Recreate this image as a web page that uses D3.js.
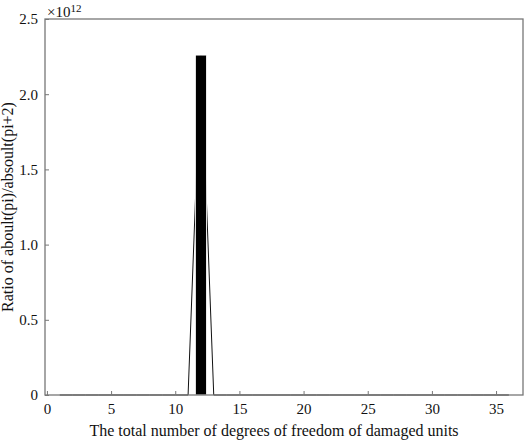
<!DOCTYPE html>
<html>
<head>
<meta charset="utf-8">
<script src="https://cdn.jsdelivr.net/npm/d3@7"></script>
<style>
  body { margin: 0; background: #fff; }
  svg text { font-family: "Liberation Serif", "DejaVu Serif", serif; fill: #111; }
</style>
</head>
<body>
<div id="chart"></div>
<script>
// degrees of freedom 1..36, ratio values (x 1e12)
const dofs = d3.range(1, 37);
const ratios = dofs.map(d => d === 12 ? 2.26 : 0);
const xTicks = [0, 5, 10, 15, 20, 25, 30, 35];
const yTicks = [0, 0.5, 1.0, 1.5, 2.0, 2.5];

const W = 526, H = 441;
const margin = { left: 45, top: 19, right: 3, bottom: 46 };
const width = W - margin.left - margin.right;
const height = H - margin.top - margin.bottom;
const serif = '"Liberation Serif", "DejaVu Serif", serif';

const svg = d3.select('#chart').append('svg')
  .attr('width', W).attr('height', H);

const g = svg.append('g')
  .attr('transform', `translate(${margin.left},${margin.top})`);

const x = d3.scaleLinear().domain([-0.15, 37.1]).range([0, width]);
const y = d3.scaleLinear().domain([0, 2.5]).range([height, 0]);

const data = dofs.map((d, i) => ({ dof: d, value: ratios[i] }));

// line underneath
g.append('path')
  .datum(data)
  .attr('fill', 'none')
  .attr('stroke', '#111')
  .attr('stroke-width', 1)
  .attr('d', d3.line().x(d => x(d.dof)).y(d => y(d.value)));

// bars
const bw = 0.86;
g.selectAll('.bar')
  .data(data.filter(d => d.value > 0))
  .join('rect')
  .attr('class', 'bar')
  .attr('x', d => x(d.dof - bw / 2))
  .attr('y', d => y(d.value))
  .attr('width', x(bw) - x(0))
  .attr('height', d => y(0) - y(d.value))
  .attr('fill', '#000')
  .attr('stroke', '#fff')
  .attr('stroke-width', 0.8);

// frame
g.append('rect')
  .attr('width', width).attr('height', height)
  .attr('fill', 'none').attr('stroke', '#777').attr('stroke-width', 1.3);

// axes
const xAxis = g.append('g')
  .attr('transform', `translate(0,${height})`)
  .call(d3.axisBottom(x).tickValues(xTicks).tickSize(-4).tickPadding(8).tickFormat(d3.format('d')));
const yAxis = g.append('g')
  .call(d3.axisLeft(y).tickValues(yTicks).tickSize(-4).tickPadding(7)
    .tickFormat(d => d === 0 ? '0' : d3.format('.1f')(d)));

[xAxis, yAxis].forEach(a => {
  a.attr('font-family', serif).attr('font-size', 15);
  a.select('.domain').remove();
  a.selectAll('line').attr('stroke', '#777');
  a.selectAll('text').attr('fill', '#111');
});

// exponent label
const ex = svg.append('text')
  .attr('x', margin.left + 2).attr('y', 17)
  .style('font-size', '15px');
ex.append('tspan').text('×10');
ex.append('tspan').attr('dy', -5).style('font-size', '11px').text('12');

// axis labels
svg.append('text')
  .attr('x', margin.left + width / 2 - 10).attr('y', 436)
  .attr('text-anchor', 'middle')
  .style('font-size', '16px')
  .text('The total number of degrees of freedom of damaged units');

svg.append('text')
  .attr('transform', `translate(13,${margin.top + height / 2}) rotate(-90)`)
  .attr('text-anchor', 'middle')
  .style('font-size', '16px')
  .text('Ratio of aboult(pi)/absoult(pi+2)');
</script>
</body>
</html>
